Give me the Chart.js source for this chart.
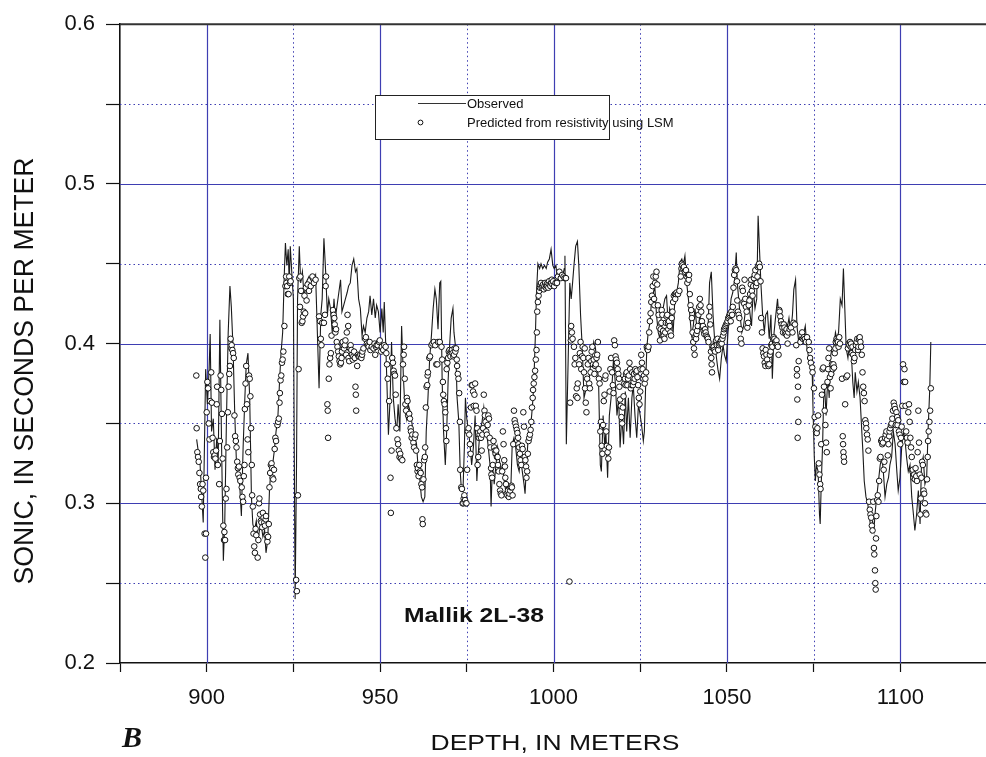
<!DOCTYPE html>
<html>
<head>
<meta charset="utf-8">
<script src="https://cdn.jsdelivr.net/npm/chart.js@4.4.1/dist/chart.umd.min.js"></script>
<style>
  html, body { margin: 0; padding: 0; background: #fff; overflow: hidden; }
  #wrap { position: relative; width: 986px; height: 757px; overflow: hidden; }
  #sonicChart { display: block; }
</style>
</head>
<body>
<div id="wrap"><canvas id="sonicChart" width="1000" height="757"></canvas></div>
<script>
// depth (m), sonic (s/m) -- observed log
const observed = [
  [897.1,0.340],[898.1,0.324],[899.0,0.288],[899.7,0.384],[900.2,0.362],[900.7,0.384],[901.0,0.406],[901.4,0.345],
  [901.9,0.353],[902.4,0.321],[902.9,0.341],[903.3,0.324],[903.8,0.415],[904.3,0.335],[904.8,0.264],[905.2,0.287],
  [905.7,0.353],[906.2,0.407],[906.7,0.436],[907.1,0.423],[907.6,0.397],[908.1,0.355],[908.6,0.324],[909.0,0.316],
  [909.5,0.312],[910.0,0.292],[910.5,0.335],[911.0,0.366],[911.4,0.387],[911.9,0.394],[912.4,0.366],[912.9,0.304],
  [913.3,0.287],[913.8,0.283],[914.3,0.289],[914.8,0.277],[915.2,0.283],[915.7,0.287],[916.2,0.279],[916.7,0.283],
  [917.1,0.269],[917.6,0.277],[918.1,0.308],[918.6,0.324],[919.0,0.324],[919.5,0.333],[920.0,0.345],[920.5,0.353],
  [921.0,0.376],[921.4,0.393],[921.9,0.407],[922.4,0.445],[922.7,0.463],[923.1,0.449],[923.5,0.459],[923.8,0.438],
  [924.1,0.461],[924.6,0.442],[925.0,0.428],[925.5,0.240],[925.9,0.324],[926.2,0.428],[926.7,0.461],[927.1,0.438],
  [927.6,0.445],[928.1,0.428],[928.6,0.438],[929.5,0.442],[930.5,0.438],[931.4,0.443],[932.4,0.372],[932.9,0.418],
  [933.3,0.428],[933.8,0.466],[934.3,0.445],[934.8,0.418],[935.2,0.428],[935.7,0.422],[936.2,0.407],[936.7,0.428],
  [937.1,0.416],[938.1,0.432],[938.6,0.440],[939.0,0.420],[939.5,0.424],[940.0,0.428],[940.5,0.432],[940.9,0.436],
  [941.4,0.438],[941.9,0.449],[942.4,0.453],[942.9,0.445],[943.3,0.447],[943.8,0.428],[944.3,0.422],[944.8,0.405],
  [945.2,0.411],[945.7,0.407],[946.2,0.416],[946.7,0.420],[947.1,0.430],[947.6,0.418],[948.1,0.428],[948.6,0.416],
  [949.0,0.424],[949.5,0.420],[950.0,0.407],[950.5,0.422],[950.9,0.407],[951.2,0.426],[951.6,0.401],[951.9,0.380],
  [952.4,0.343],[952.9,0.366],[953.3,0.401],[953.8,0.366],[954.3,0.353],[954.8,0.345],[955.2,0.362],[955.7,0.345],
  [956.2,0.411],[956.7,0.380],[957.1,0.362],[957.6,0.353],[958.1,0.362],[958.6,0.358],[959.0,0.353],[959.5,0.345],
  [960.0,0.341],[960.5,0.337],[960.9,0.324],[961.4,0.316],[961.9,0.304],[962.4,0.301],[962.9,0.304],[963.3,0.345],
  [963.8,0.366],[964.3,0.391],[964.8,0.405],[965.3,0.422],[965.8,0.434],[966.2,0.428],[966.7,0.409],[967.2,0.438],
  [967.5,0.439],[967.9,0.376],[968.3,0.345],[968.8,0.324],[969.2,0.345],[969.6,0.376],[970.1,0.401],[970.5,0.416],
  [971.0,0.422],[971.3,0.407],[971.8,0.397],[972.2,0.366],[972.7,0.351],[973.1,0.320],[973.4,0.310],[973.9,0.308],
  [974.3,0.335],[974.6,0.366],[975.0,0.353],[975.5,0.345],[976.0,0.335],[976.4,0.324],[976.9,0.335],[977.4,0.355],
  [977.9,0.314],[978.3,0.331],[978.8,0.345],[979.4,0.351],[979.9,0.360],[980.2,0.353],[980.7,0.345],[981.2,0.335],
  [981.7,0.324],[982.0,0.298],[982.4,0.324],[982.9,0.312],[983.4,0.324],[983.9,0.335],[984.3,0.329],[984.8,0.320],
  [985.3,0.324],[985.8,0.314],[986.2,0.308],[986.7,0.312],[987.2,0.306],[987.7,0.310],[988.1,0.337],[988.6,0.341],
  [989.1,0.335],[989.6,0.324],[990.1,0.320],[990.5,0.329],[991.0,0.320],[991.5,0.312],[991.8,0.306],[992.2,0.324],
  [992.7,0.341],[993.2,0.345],[993.7,0.355],[994.1,0.366],[994.5,0.387],[994.8,0.407],[995.1,0.432],[995.5,0.450],
  [996.0,0.447],[996.4,0.450],[996.9,0.447],[997.4,0.449],[997.9,0.447],[998.3,0.451],[998.8,0.453],[999.3,0.459],
  [999.8,0.449],[1000.2,0.447],[1000.7,0.449],[1001.1,0.440],[1001.6,0.445],[1002.1,0.440],[1002.6,0.442],[1003.1,0.447],
  [1003.3,0.455],[1003.7,0.337],[1004.2,0.387],[1004.7,0.438],[1005.1,0.428],[1005.5,0.438],[1005.9,0.449],[1006.4,0.461],
  [1006.9,0.464],[1007.3,0.449],[1007.8,0.418],[1008.3,0.397],[1008.8,0.366],[1009.2,0.370],[1009.7,0.374],[1010.2,0.376],
  [1010.7,0.387],[1011.1,0.391],[1011.6,0.401],[1012.1,0.397],[1012.6,0.387],[1013.0,0.376],[1013.5,0.324],[1013.8,0.320],
  [1014.3,0.355],[1014.8,0.335],[1015.1,0.345],[1015.6,0.316],[1016.1,0.355],[1016.6,0.366],[1017.1,0.382],[1017.3,0.391],
  [1017.8,0.376],[1018.3,0.355],[1018.8,0.366],[1019.2,0.335],[1019.7,0.355],[1020.2,0.337],[1020.7,0.370],[1021.1,0.345],
  [1021.6,0.366],[1022.1,0.341],[1022.6,0.366],[1023.0,0.374],[1023.5,0.355],[1024.0,0.341],[1024.5,0.362],[1025.0,0.355],
  [1025.4,0.349],[1025.9,0.339],[1026.2,0.345],[1026.6,0.376],[1026.9,0.397],[1027.3,0.407],[1027.8,0.413],[1028.3,0.428],
  [1028.8,0.432],[1029.2,0.436],[1029.7,0.418],[1030.2,0.407],[1030.7,0.403],[1031.1,0.418],[1031.6,0.422],[1032.1,0.428],
  [1032.6,0.430],[1033.1,0.411],[1033.5,0.422],[1034.0,0.418],[1034.5,0.407],[1035.0,0.428],[1035.5,0.432],[1036.0,0.438],
  [1036.5,0.451],[1037.0,0.453],[1037.4,0.449],[1037.9,0.455],[1038.4,0.438],[1038.9,0.428],[1039.3,0.418],[1039.8,0.405],
  [1040.3,0.411],[1040.8,0.422],[1041.2,0.413],[1041.7,0.407],[1042.2,0.418],[1042.7,0.411],[1043.1,0.413],[1043.6,0.407],
  [1044.1,0.403],[1044.6,0.411],[1045.0,0.438],[1045.5,0.445],[1046.0,0.418],[1046.5,0.401],[1047.0,0.391],[1047.4,0.384],
  [1047.9,0.378],[1048.4,0.391],[1048.9,0.399],[1049.3,0.393],[1049.8,0.389],[1050.3,0.407],[1050.8,0.418],[1051.2,0.428],
  [1051.7,0.432],[1052.2,0.440],[1052.7,0.457],[1053.0,0.438],[1053.4,0.428],[1053.8,0.418],[1054.3,0.407],[1054.8,0.411],
  [1055.2,0.418],[1055.7,0.422],[1056.2,0.428],[1056.7,0.418],[1057.1,0.411],[1057.6,0.434],[1058.1,0.422],[1058.6,0.428],
  [1059.0,0.480],[1059.8,0.438],[1060.3,0.418],[1060.8,0.407],[1061.2,0.418],[1061.7,0.420],[1062.2,0.403],[1062.7,0.418],
  [1063.1,0.378],[1063.6,0.407],[1064.1,0.418],[1064.6,0.428],[1065.1,0.413],[1065.5,0.418],[1066.0,0.411],[1066.5,0.407],
  [1067.0,0.413],[1067.5,0.411],[1067.9,0.416],[1068.4,0.407],[1068.9,0.418],[1069.3,0.434],[1069.8,0.440],[1070.2,0.411],
  [1070.7,0.401],[1071.2,0.407],[1071.7,0.403],[1072.2,0.407],[1072.6,0.411],[1073.1,0.397],[1073.6,0.391],[1074.1,0.387],
  [1074.6,0.382],[1074.8,0.362],[1075.2,0.329],[1075.5,0.314],[1075.8,0.324],[1076.3,0.320],[1076.7,0.293],[1076.9,0.287],
  [1077.2,0.312],[1077.6,0.337],[1077.9,0.366],[1078.2,0.372],[1078.6,0.355],[1078.9,0.370],[1079.2,0.376],[1079.5,0.366],
  [1079.8,0.391],[1080.3,0.397],[1080.8,0.397],[1081.3,0.407],[1081.7,0.403],[1082.2,0.407],[1082.7,0.428],[1083.2,0.424],
  [1083.6,0.447],[1083.9,0.428],[1084.4,0.397],[1084.9,0.391],[1085.4,0.401],[1085.8,0.397],[1086.3,0.376],[1086.7,0.366],
  [1087.0,0.382],[1087.5,0.370],[1087.9,0.376],[1088.4,0.366],[1088.9,0.345],[1089.2,0.333],[1089.6,0.314],[1090.1,0.304],
  [1090.6,0.300],[1091.1,0.291],[1091.6,0.283],[1092.0,0.289],[1092.4,0.283],[1092.7,0.293],[1093.2,0.304],[1093.7,0.314],
  [1094.2,0.324],[1094.7,0.329],[1095.1,0.320],[1095.6,0.304],[1096.1,0.312],[1096.6,0.316],[1097.0,0.324],[1097.5,0.329],
  [1098.0,0.345],[1098.5,0.337],[1099.0,0.320],[1099.4,0.308],[1099.9,0.316],[1100.4,0.335],[1100.9,0.345],[1101.3,0.341],
  [1101.8,0.329],[1102.3,0.320],[1102.8,0.324],[1103.3,0.304],[1103.7,0.295],[1104.2,0.283],[1104.7,0.293],[1105.2,0.308],
  [1105.7,0.287],[1106.1,0.324],[1106.6,0.329],[1107.1,0.312],[1107.6,0.316],[1108.0,0.345],[1108.5,0.372],[1108.8,0.401]
];

// depth (m), sonic (s/m) -- predicted from resistivity (LSM)
const predicted = [
  [897.0,0.380],[897.1,0.347],[897.3,0.332],[897.5,0.329],[897.7,0.326],[897.9,0.319],[898.1,0.312],[898.3,0.309],
  [898.4,0.304],[898.6,0.298],[898.8,0.312],[899.0,0.308],[899.4,0.281],[899.8,0.281],[899.6,0.266],[899.8,0.316],
  [900.0,0.357],[900.2,0.376],[900.4,0.372],[900.6,0.350],[900.8,0.340],[901.0,0.364],[901.3,0.382],[901.5,0.363],
  [901.7,0.341],[901.9,0.332],[902.1,0.329],[902.3,0.330],[902.5,0.328],[902.7,0.333],[902.9,0.362],[903.0,0.373],
  [903.2,0.324],[903.6,0.312],[903.8,0.339],[904.0,0.380],[904.2,0.371],[904.4,0.356],[904.6,0.328],[904.8,0.286],
  [905.0,0.277],[905.1,0.282],[905.3,0.277],[905.5,0.303],[905.7,0.309],[905.9,0.335],[906.1,0.357],[906.3,0.373],
  [906.5,0.381],[906.7,0.386],[906.9,0.403],[907.1,0.397],[907.2,0.399],[907.4,0.396],[907.6,0.394],[907.8,0.391],
  [908.0,0.355],[908.2,0.342],[908.4,0.339],[908.6,0.335],[908.8,0.326],[909.0,0.322],[909.1,0.318],[909.3,0.323],
  [909.5,0.316],[909.7,0.314],[910.1,0.310],[910.3,0.304],[910.5,0.301],[910.7,0.317],[910.9,0.324],[911.0,0.359],
  [911.2,0.375],[911.4,0.386],[911.6,0.362],[911.8,0.340],[912.0,0.332],[912.2,0.380],[912.4,0.378],[912.6,0.367],
  [912.8,0.347],[913.0,0.324],[913.1,0.305],[913.3,0.298],[913.5,0.281],[913.7,0.273],[913.9,0.269],[914.1,0.284],
  [914.3,0.280],[914.7,0.266],[914.9,0.277],[915.1,0.300],[915.2,0.303],[915.4,0.293],[915.6,0.289],[915.8,0.288],
  [916.0,0.285],[916.2,0.294],[916.4,0.291],[916.6,0.288],[916.8,0.286],[917.0,0.290],[917.1,0.292],[917.3,0.280],
  [917.5,0.276],[917.7,0.279],[917.9,0.287],[918.1,0.310],[918.3,0.319],[918.5,0.324],[918.7,0.325],[918.9,0.322],
  [919.0,0.316],[919.2,0.315],[919.4,0.321],[919.6,0.334],[919.8,0.341],[920.0,0.339],[920.4,0.349],[920.6,0.351],
  [920.8,0.353],[921.0,0.363],[921.1,0.369],[921.3,0.377],[921.5,0.380],[921.7,0.388],[921.9,0.390],[922.1,0.395],
  [922.4,0.411],[922.7,0.436],[922.9,0.442],[923.0,0.438],[923.2,0.436],[923.4,0.431],[923.6,0.431],[923.8,0.442],
  [924.0,0.438],[924.2,0.439],[925.8,0.252],[926.0,0.245],[926.3,0.305],[926.5,0.384],[926.7,0.441],[926.9,0.423],
  [927.0,0.442],[927.2,0.433],[927.4,0.413],[927.6,0.414],[927.8,0.417],[928.0,0.420],[928.2,0.430],[928.4,0.419],
  [928.6,0.435],[928.8,0.427],[929.1,0.437],[929.5,0.433],[930.0,0.436],[930.5,0.442],[930.9,0.438],[931.4,0.440],
  [932.4,0.417],[932.7,0.414],[932.9,0.403],[933.1,0.399],[933.3,0.413],[933.8,0.413],[934.1,0.418],[934.3,0.436],
  [934.4,0.442],[934.8,0.362],[934.9,0.358],[935.0,0.341],[935.2,0.378],[935.4,0.387],[935.6,0.391],[935.8,0.394],
  [936.0,0.405],[936.4,0.421],[936.6,0.418],[936.8,0.416],[936.9,0.412],[937.1,0.407],[937.3,0.409],[937.5,0.401],
  [937.7,0.398],[937.9,0.395],[938.1,0.392],[938.3,0.389],[938.5,0.387],[938.7,0.388],[938.9,0.391],[939.0,0.395],
  [939.2,0.401],[939.4,0.398],[939.6,0.397],[939.8,0.399],[940.0,0.402],[940.2,0.393],[940.4,0.407],[940.6,0.418],
  [940.8,0.411],[940.9,0.391],[941.1,0.389],[941.3,0.397],[941.5,0.399],[941.7,0.396],[941.9,0.393],[942.1,0.390],
  [942.3,0.392],[942.5,0.395],[942.7,0.391],[942.9,0.373],[943.0,0.368],[943.1,0.358],[943.4,0.386],[943.6,0.393],
  [943.8,0.392],[944.0,0.392],[944.3,0.393],[944.6,0.391],[944.8,0.393],[944.9,0.395],[945.2,0.397],[945.7,0.403],
  [945.9,0.404],[946.2,0.400],[946.5,0.399],[946.7,0.398],[947.0,0.401],[947.2,0.396],[947.6,0.398],[948.1,0.397],
  [948.4,0.400],[948.6,0.393],[948.8,0.398],[949.0,0.399],[949.3,0.399],[949.7,0.401],[949.9,0.402],[950.3,0.395],
  [950.5,0.398],[950.9,0.396],[951.2,0.399],[951.6,0.398],[951.8,0.394],[952.0,0.387],[952.2,0.378],[952.6,0.364],
  [953.0,0.316],[953.1,0.294],[953.3,0.333],[953.5,0.391],[953.7,0.388],[953.9,0.383],[954.1,0.381],[954.3,0.380],
  [954.5,0.368],[954.7,0.347],[955.0,0.340],[955.2,0.337],[955.4,0.333],[955.6,0.329],[955.8,0.331],[956.0,0.328],
  [956.4,0.327],[956.6,0.387],[956.8,0.393],[956.9,0.398],[957.1,0.378],[957.3,0.362],[957.5,0.358],[957.7,0.366],
  [957.9,0.364],[958.1,0.355],[958.4,0.356],[958.6,0.353],[958.8,0.347],[958.9,0.345],[959.1,0.341],[959.3,0.343],
  [959.6,0.338],[959.8,0.335],[960.0,0.341],[960.2,0.343],[960.4,0.333],[960.6,0.324],[960.8,0.320],[960.9,0.322],
  [961.1,0.317],[961.3,0.324],[961.5,0.320],[961.7,0.319],[961.9,0.312],[962.1,0.310],[962.2,0.290],[962.3,0.287],
  [962.5,0.315],[962.7,0.327],[962.9,0.329],[963.0,0.335],[963.2,0.360],[963.4,0.373],[963.6,0.374],[963.7,0.380],
  [963.8,0.382],[964.2,0.391],[964.4,0.392],[964.8,0.399],[965.1,0.400],[965.5,0.401],[965.9,0.399],[966.2,0.387],
  [966.5,0.387],[966.7,0.401],[967.2,0.401],[967.7,0.398],[967.9,0.390],[968.1,0.376],[968.2,0.368],[968.4,0.364],
  [968.6,0.362],[968.8,0.357],[969.0,0.347],[969.1,0.339],[969.2,0.384],[969.4,0.388],[969.6,0.391],[969.8,0.395],
  [970.0,0.396],[970.1,0.393],[970.3,0.392],[970.5,0.395],[970.7,0.396],[970.9,0.394],[971.1,0.392],[971.3,0.393],
  [971.5,0.397],[971.7,0.395],[971.9,0.397],[972.1,0.390],[972.2,0.386],[972.4,0.381],[972.6,0.378],[972.8,0.369],
  [973.0,0.351],[973.1,0.321],[973.4,0.310],[973.6,0.309],[973.8,0.300],[974.0,0.300],[974.1,0.303],[974.3,0.305],
  [974.5,0.302],[974.7,0.300],[974.9,0.300],[975.1,0.321],[975.3,0.345],[975.5,0.347],[975.7,0.343],[975.9,0.337],
  [976.1,0.331],[976.2,0.360],[976.4,0.374],[976.6,0.374],[976.8,0.370],[977.0,0.361],[977.2,0.368],[977.4,0.375],
  [977.6,0.361],[977.8,0.358],[978.0,0.347],[978.1,0.324],[978.3,0.329],[978.5,0.341],[978.7,0.343],[978.9,0.345],
  [979.1,0.341],[979.3,0.333],[979.5,0.343],[979.7,0.347],[979.9,0.368],[980.1,0.358],[980.2,0.355],[980.4,0.351],
  [980.6,0.345],[980.8,0.343],[981.0,0.349],[981.2,0.355],[981.4,0.353],[981.6,0.341],[981.8,0.335],[982.0,0.322],
  [982.1,0.318],[982.3,0.316],[982.5,0.324],[982.7,0.339],[982.9,0.335],[983.1,0.333],[983.3,0.331],[983.5,0.333],
  [983.7,0.329],[983.9,0.329],[984.0,0.324],[984.2,0.320],[984.4,0.312],[984.6,0.308],[984.8,0.306],[985.0,0.305],
  [985.2,0.320],[985.4,0.345],[985.6,0.337],[985.8,0.327],[986.0,0.323],[986.1,0.316],[986.3,0.312],[986.5,0.306],
  [986.7,0.305],[986.9,0.308],[987.1,0.304],[987.3,0.306],[987.5,0.308],[987.7,0.310],[987.9,0.311],[988.0,0.310],
  [988.2,0.305],[988.4,0.337],[988.6,0.358],[988.8,0.352],[989.0,0.350],[989.2,0.348],[989.4,0.346],[989.6,0.344],
  [989.8,0.341],[989.9,0.337],[990.1,0.335],[990.3,0.331],[990.5,0.327],[990.7,0.324],[990.9,0.336],[991.1,0.334],
  [991.3,0.357],[991.5,0.348],[991.7,0.329],[991.9,0.327],[992.1,0.323],[992.2,0.316],[992.4,0.320],[992.6,0.331],
  [992.8,0.339],[993.0,0.341],[993.2,0.343],[993.4,0.346],[993.6,0.351],[993.8,0.360],[994.0,0.366],[994.1,0.371],
  [994.3,0.375],[994.5,0.379],[994.7,0.383],[994.9,0.390],[995.1,0.396],[995.2,0.407],[995.3,0.420],[995.5,0.426],
  [995.7,0.430],[995.9,0.433],[996.1,0.435],[996.2,0.437],[996.4,0.438],[996.6,0.435],[996.8,0.436],[997.0,0.437],
  [997.2,0.434],[997.4,0.436],[997.6,0.438],[997.8,0.435],[998.0,0.437],[998.1,0.436],[998.3,0.438],[998.5,0.435],
  [998.7,0.439],[998.9,0.437],[999.1,0.436],[999.3,0.438],[999.5,0.440],[999.7,0.437],[999.9,0.439],[1000.2,0.436],
  [1000.6,0.438],[1001.0,0.438],[1001.3,0.442],[1001.7,0.445],[1002.1,0.441],[1002.5,0.443],[1002.9,0.442],[1003.2,0.441],
  [1003.6,0.441],[1004.6,0.251],[1004.8,0.363],[1005.0,0.402],[1005.1,0.411],[1005.3,0.407],[1005.5,0.403],[1005.9,0.398],
  [1006.1,0.387],[1006.3,0.391],[1006.5,0.367],[1006.7,0.372],[1006.9,0.366],[1007.0,0.375],[1007.4,0.387],[1007.6,0.394],
  [1007.8,0.401],[1008.0,0.384],[1008.2,0.392],[1008.4,0.398],[1008.6,0.391],[1008.8,0.382],[1009.0,0.397],[1009.1,0.372],
  [1009.3,0.363],[1009.5,0.357],[1009.7,0.378],[1009.9,0.387],[1010.1,0.391],[1010.3,0.375],[1010.5,0.372],[1010.7,0.382],
  [1010.9,0.389],[1011.0,0.395],[1011.2,0.398],[1011.4,0.387],[1011.6,0.390],[1011.8,0.381],[1012.0,0.386],[1012.2,0.387],
  [1012.4,0.391],[1012.6,0.393],[1012.8,0.401],[1013.0,0.384],[1013.1,0.378],[1013.3,0.375],[1013.5,0.345],[1013.7,0.351],
  [1013.9,0.336],[1014.1,0.331],[1014.3,0.349],[1014.5,0.364],[1014.7,0.368],[1014.9,0.378],[1015.0,0.380],[1015.2,0.345],
  [1015.4,0.336],[1015.6,0.332],[1015.8,0.328],[1016.0,0.335],[1016.2,0.370],[1016.4,0.384],[1016.6,0.391],[1016.9,0.382],
  [1017.1,0.374],[1017.3,0.369],[1017.5,0.402],[1017.7,0.399],[1017.9,0.392],[1018.1,0.390],[1018.3,0.388],[1018.5,0.384],
  [1018.7,0.381],[1018.9,0.378],[1019.0,0.373],[1019.2,0.365],[1019.4,0.361],[1019.6,0.354],[1019.8,0.350],[1020.0,0.360],
  [1020.2,0.367],[1020.4,0.375],[1020.6,0.378],[1020.8,0.374],[1020.9,0.381],[1021.1,0.382],[1021.3,0.374],[1021.5,0.378],
  [1021.7,0.380],[1021.9,0.388],[1022.1,0.384],[1022.3,0.372],[1022.5,0.374],[1022.7,0.382],[1022.9,0.374],[1023.1,0.376],
  [1023.2,0.381],[1023.4,0.378],[1023.6,0.384],[1023.8,0.382],[1024.0,0.383],[1024.2,0.379],[1024.4,0.374],[1024.6,0.366],
  [1024.8,0.362],[1025.0,0.370],[1025.1,0.384],[1025.3,0.393],[1025.5,0.388],[1025.7,0.384],[1025.9,0.378],[1026.1,0.380],
  [1026.3,0.375],[1026.5,0.378],[1026.7,0.382],[1026.9,0.398],[1027.0,0.397],[1027.2,0.396],[1027.4,0.398],[1027.6,0.407],
  [1027.8,0.414],[1028.0,0.419],[1028.2,0.426],[1028.4,0.430],[1028.6,0.436],[1028.8,0.442],[1029.0,0.428],[1029.1,0.424],
  [1029.3,0.438],[1029.5,0.442],[1029.7,0.445],[1029.9,0.437],[1030.1,0.424],[1030.3,0.418],[1030.5,0.410],[1030.7,0.402],
  [1030.9,0.409],[1031.1,0.413],[1031.2,0.421],[1031.4,0.418],[1031.6,0.408],[1031.8,0.405],[1032.0,0.403],[1032.2,0.407],
  [1032.4,0.413],[1032.6,0.417],[1032.8,0.418],[1033.0,0.413],[1033.1,0.409],[1033.3,0.414],[1033.5,0.411],[1033.7,0.407],
  [1033.9,0.405],[1034.1,0.416],[1034.3,0.420],[1034.5,0.426],[1034.7,0.430],[1035.0,0.431],[1035.1,0.428],[1035.3,0.431],
  [1035.5,0.432],[1035.9,0.431],[1036.3,0.433],[1036.7,0.442],[1036.9,0.447],[1037.0,0.450],[1037.2,0.449],[1037.4,0.447],
  [1037.6,0.448],[1037.9,0.445],[1038.2,0.446],[1038.4,0.442],[1038.6,0.438],[1038.8,0.443],[1039.0,0.440],[1039.1,0.443],
  [1039.3,0.431],[1039.5,0.424],[1039.7,0.421],[1039.9,0.416],[1040.1,0.407],[1040.3,0.401],[1040.5,0.397],[1040.7,0.393],
  [1040.9,0.404],[1041.1,0.403],[1041.2,0.406],[1041.4,0.408],[1041.6,0.411],[1041.8,0.418],[1042.0,0.423],[1042.2,0.428],
  [1042.4,0.424],[1042.6,0.420],[1042.8,0.414],[1043.0,0.410],[1043.1,0.411],[1043.3,0.408],[1043.5,0.406],[1043.7,0.409],
  [1043.9,0.407],[1044.1,0.405],[1044.3,0.404],[1044.5,0.403],[1044.7,0.401],[1044.9,0.417],[1045.0,0.423],[1045.2,0.412],
  [1045.4,0.395],[1045.5,0.391],[1045.6,0.387],[1045.7,0.382],[1045.8,0.398],[1046.0,0.397],[1046.2,0.398],[1046.4,0.396],
  [1046.6,0.395],[1046.8,0.401],[1046.9,0.402],[1047.1,0.399],[1047.3,0.403],[1047.5,0.396],[1047.7,0.399],[1047.9,0.400],
  [1048.1,0.401],[1048.3,0.402],[1048.5,0.400],[1048.7,0.403],[1048.9,0.405],[1049.1,0.407],[1049.2,0.409],[1049.4,0.410],
  [1049.6,0.411],[1049.8,0.412],[1050.0,0.413],[1050.2,0.414],[1050.4,0.416],[1050.6,0.417],[1050.8,0.418],[1050.9,0.419],
  [1051.1,0.414],[1051.3,0.420],[1051.5,0.418],[1051.7,0.423],[1051.9,0.435],[1052.1,0.443],[1052.3,0.446],[1052.5,0.447],
  [1052.7,0.446],[1052.9,0.439],[1053.0,0.427],[1053.2,0.420],[1053.4,0.418],[1053.6,0.416],[1053.8,0.409],[1054.0,0.403],
  [1054.2,0.400],[1054.4,0.435],[1054.6,0.433],[1054.8,0.426],[1055.0,0.425],[1055.1,0.440],[1055.3,0.428],[1055.5,0.423],
  [1055.7,0.420],[1055.9,0.410],[1056.1,0.413],[1056.3,0.424],[1056.5,0.427],[1056.7,0.431],[1056.9,0.437],[1057.0,0.440],
  [1057.2,0.433],[1057.4,0.430],[1057.6,0.436],[1057.8,0.441],[1058.0,0.443],[1058.2,0.446],[1058.4,0.436],[1058.6,0.438],
  [1058.8,0.442],[1058.9,0.448],[1059.1,0.449],[1059.3,0.450],[1059.5,0.448],[1059.7,0.439],[1059.9,0.416],[1060.1,0.407],
  [1060.3,0.397],[1060.5,0.394],[1060.7,0.392],[1060.9,0.388],[1061.1,0.386],[1061.2,0.396],[1061.4,0.393],[1061.6,0.390],
  [1061.8,0.387],[1062.0,0.386],[1062.2,0.387],[1062.4,0.393],[1062.6,0.395],[1062.8,0.399],[1063.0,0.400],[1063.1,0.398],
  [1063.3,0.403],[1063.5,0.404],[1063.7,0.403],[1063.9,0.401],[1064.1,0.400],[1064.3,0.402],[1064.5,0.399],[1064.7,0.398],
  [1064.9,0.393],[1065.1,0.421],[1065.2,0.420],[1065.4,0.417],[1065.6,0.414],[1065.8,0.412],[1066.0,0.410],[1066.2,0.407],
  [1066.4,0.412],[1066.6,0.410],[1066.8,0.407],[1067.0,0.406],[1067.2,0.409],[1067.3,0.405],[1067.5,0.400],[1067.7,0.407],
  [1068.1,0.409],[1068.5,0.410],[1068.9,0.407],[1069.2,0.413],[1069.6,0.412],[1070.0,0.399],[1070.2,0.384],[1070.2,0.380],
  [1070.3,0.365],[1070.5,0.373],[1070.6,0.351],[1070.4,0.341],[1070.7,0.389],[1071.2,0.401],[1071.5,0.405],[1071.7,0.407],
  [1071.9,0.403],[1072.2,0.404],[1072.5,0.403],[1072.8,0.401],[1073.1,0.404],[1073.6,0.401],[1073.8,0.396],[1074.0,0.391],
  [1074.2,0.388],[1074.6,0.385],[1074.7,0.382],[1075.1,0.372],[1075.3,0.354],[1075.5,0.348],[1075.7,0.345],[1075.9,0.344],
  [1076.1,0.347],[1076.3,0.355],[1076.5,0.325],[1076.7,0.318],[1076.9,0.312],[1077.0,0.309],[1077.2,0.337],[1077.4,0.368],
  [1077.6,0.384],[1077.8,0.385],[1078.0,0.373],[1078.2,0.358],[1078.4,0.349],[1078.6,0.338],[1078.8,0.332],[1079.0,0.376],
  [1079.2,0.384],[1079.3,0.391],[1079.5,0.397],[1079.7,0.379],[1079.9,0.372],[1080.1,0.381],[1080.3,0.387],[1080.5,0.384],
  [1080.7,0.387],[1080.9,0.385],[1081.1,0.394],[1081.3,0.397],[1081.4,0.401],[1081.6,0.403],[1081.8,0.402],[1082.0,0.401],
  [1082.2,0.398],[1082.4,0.404],[1082.6,0.400],[1083.2,0.378],[1083.4,0.342],[1083.5,0.337],[1083.6,0.332],[1083.7,0.329],
  [1083.8,0.326],[1084.1,0.362],[1084.4,0.379],[1084.7,0.380],[1084.9,0.397],[1085.1,0.400],[1085.3,0.399],[1085.5,0.401],
  [1085.7,0.398],[1085.8,0.400],[1086.0,0.394],[1086.2,0.398],[1086.4,0.393],[1086.6,0.389],[1086.8,0.391],[1087.0,0.396],
  [1087.2,0.399],[1087.4,0.401],[1087.6,0.403],[1087.8,0.396],[1087.9,0.398],[1088.1,0.403],[1088.3,0.404],[1088.5,0.401],
  [1088.7,0.398],[1088.9,0.393],[1089.1,0.382],[1089.3,0.373],[1089.5,0.369],[1089.7,0.364],[1089.9,0.352],[1090.1,0.350],
  [1090.2,0.347],[1090.4,0.343],[1090.6,0.340],[1090.8,0.333],[1091.0,0.301],[1091.2,0.296],[1091.4,0.293],[1091.6,0.291],
  [1091.8,0.286],[1092.0,0.283],[1092.2,0.301],[1092.4,0.272],[1092.5,0.268],[1092.7,0.258],[1092.8,0.250],[1092.9,0.246],
  [1093.0,0.278],[1093.1,0.292],[1093.3,0.302],[1093.5,0.305],[1093.7,0.301],[1093.9,0.314],[1094.1,0.328],[1094.3,0.329],
  [1094.5,0.339],[1094.7,0.340],[1094.8,0.337],[1095.0,0.338],[1095.2,0.321],[1095.4,0.326],[1095.6,0.341],[1095.8,0.343],
  [1096.0,0.345],[1096.2,0.340],[1096.4,0.330],[1096.6,0.337],[1096.8,0.342],[1096.9,0.345],[1097.1,0.347],[1097.3,0.349],
  [1097.5,0.350],[1097.7,0.353],[1097.9,0.358],[1098.1,0.363],[1098.3,0.361],[1098.5,0.359],[1098.7,0.349],[1098.9,0.357],
  [1099.1,0.354],[1099.2,0.349],[1099.4,0.352],[1099.6,0.345],[1099.8,0.343],[1100.0,0.337],[1100.2,0.341],[1100.4,0.348],
  [1100.6,0.361],[1100.8,0.387],[1101.0,0.376],[1101.2,0.384],[1101.4,0.376],[1101.5,0.361],[1101.7,0.345],[1101.9,0.341],
  [1102.1,0.338],[1102.3,0.357],[1102.5,0.362],[1102.7,0.351],[1102.9,0.341],[1103.1,0.335],[1103.3,0.329],[1103.5,0.320],
  [1103.6,0.321],[1103.8,0.316],[1104.0,0.318],[1104.2,0.315],[1104.4,0.322],[1104.6,0.317],[1104.8,0.314],[1105.0,0.332],
  [1105.2,0.358],[1105.4,0.338],[1105.6,0.318],[1105.8,0.293],[1105.9,0.303],[1106.1,0.316],[1106.3,0.326],[1106.5,0.324],
  [1106.7,0.308],[1106.9,0.306],[1107.1,0.300],[1107.3,0.294],[1107.5,0.293],[1107.7,0.315],[1107.9,0.329],[1108.0,0.339],
  [1108.2,0.345],[1108.4,0.351],[1108.6,0.358],[1108.8,0.372]
];

const xTickLabels = [900, 950, 1000, 1050, 1100];
const yTickLabels = [0.2, 0.3, 0.4, 0.5, 0.6];
const legendLabels = ['Observed', 'Predicted from resistivity using LSM'];
const wellName = 'Mallik 2L-38';
const panelLetter = 'B';
const xTitle = 'DEPTH, IN METERS';
const yTitle = 'SONIC, IN SECONDS PER METER';

const SANS = '"Liberation Sans", Arial, Helvetica, sans-serif';
const GRID_BLUE = 'rgb(62, 62, 178)';

function toPoints(rows) {
	return rows.map(function(r) { return { x: r[0], y: r[1] }; });
}

// horizontally stretched text so the width matches the figure
function fitText(ctx, text, x, y, font, width, align) {
	ctx.font = font;
	const w = ctx.measureText(text).width;
	const sx = width / w;
	ctx.save();
	ctx.translate(x, y);
	ctx.scale(sx, 1);
	ctx.textAlign = align;
	ctx.textBaseline = 'alphabetic';
	ctx.fillText(text, 0, 0);
	ctx.restore();
}

const gridLines = {
	id: 'gridLines',
	beforeDatasetsDraw(chart) {
		const ctx = chart.ctx;
		const a = chart.chartArea;
		const xs = chart.scales.x;
		const ys = chart.scales.y;
		ctx.save();
		ctx.strokeStyle = GRID_BLUE;
		xs.ticks.forEach(function(t) {
			if (t.value <= xs.min || t.value >= xs.max) return;
			const px = Math.round(xs.getPixelForValue(t.value)) + 0.5;
			const major = t.value % 50 === 0;
			ctx.lineWidth = major ? 1.2 : 1;
			ctx.setLineDash(major ? [] : [1.5, 3]);
			ctx.beginPath();
			ctx.moveTo(px, a.top);
			ctx.lineTo(px, a.bottom);
			ctx.stroke();
		});
		ys.ticks.forEach(function(t) {
			if (t.value <= ys.min + 1e-9 || t.value >= ys.max - 1e-9) return;
			const py = Math.round(ys.getPixelForValue(t.value)) + 0.5;
			const major = Math.round(t.value * 100) % 10 === 0;
			ctx.lineWidth = major ? 1.2 : 1;
			ctx.setLineDash(major ? [] : [1.5, 3]);
			ctx.beginPath();
			ctx.moveTo(a.left, py);
			ctx.lineTo(a.right, py);
			ctx.stroke();
		});
		// top frame line
		ctx.setLineDash([]);
		ctx.strokeStyle = '#333';
		ctx.lineWidth = 2;
		ctx.beginPath();
		ctx.moveTo(a.left, a.top);
		ctx.lineTo(a.right + 10, a.top);
		ctx.stroke();
		ctx.restore();
	},
	afterDraw(chart) {
		const ctx = chart.ctx;
		ctx.save();

		// legend
		ctx.fillStyle = '#fff';
		ctx.fillRect(375, 95, 234, 44);
		ctx.strokeStyle = '#222';
		ctx.lineWidth = 1;
		ctx.strokeRect(375.5, 95.5, 234, 44);
		ctx.strokeStyle = '#333';
		ctx.beginPath();
		ctx.moveTo(418, 103.5);
		ctx.lineTo(466, 103.5);
		ctx.stroke();
		ctx.beginPath();
		ctx.arc(420.5, 122.5, 2.4, 0, Math.PI * 2);
		ctx.fillStyle = '#fff';
		ctx.fill();
		ctx.strokeStyle = '#111';
		ctx.stroke();
		ctx.fillStyle = '#111';
		ctx.font = '13px ' + SANS;
		ctx.textAlign = 'left';
		ctx.textBaseline = 'middle';
		ctx.fillText(legendLabels[0], 467, 104);
		ctx.fillText(legendLabels[1], 467, 123);

		// well name
		fitText(ctx, wellName, 404, 622, 'bold 20px ' + SANS, 140, 'left');

		// axis titles
		fitText(ctx, xTitle, 555, 750, '22px ' + SANS, 249, 'center');
		ctx.save();
		ctx.translate(33, 371);
		ctx.rotate(-Math.PI / 2);
		fitText(ctx, yTitle, 0, 0, '27px ' + SANS, 427, 'center');
		ctx.restore();

		// panel letter
		ctx.font = 'italic bold 30px "Liberation Serif", "Times New Roman", serif';
		ctx.textAlign = 'left';
		ctx.textBaseline = 'alphabetic';
		ctx.fillText(panelLetter, 122, 747);
		ctx.restore();
	}
};

const ctx = document.getElementById('sonicChart').getContext('2d');
const chart = new Chart(ctx, {
	type: 'scatter',
	data: {
		datasets: [{
			label: legendLabels[1],
			data: toPoints(predicted),
			showLine: false,
			pointRadius: 2.8,
			pointBackgroundColor: '#fff',
			pointBorderColor: '#111',
			pointBorderWidth: 1,
			order: 0
		}, {
			label: legendLabels[0],
			data: toPoints(observed),
			showLine: true,
			pointRadius: 0,
			borderColor: '#1a1a1a',
			borderWidth: 1.1,
			tension: 0,
			order: 1
		}]
	},
	options: {
		responsive: false,
		animation: false,
		devicePixelRatio: 1,
		layout: { padding: { top: 18, right: 5, left: 0, bottom: 0 } },
		plugins: {
			legend: { display: false },
			tooltip: { enabled: false }
		},
		scales: {
			x: {
				type: 'linear',
				min: 875,
				max: 1125,
				afterFit: function(s) { s.height = 94; },
				ticks: {
					stepSize: 25,
					padding: 13,
					color: '#111',
					font: { family: SANS, size: 22 },
					maxRotation: 0,
					autoSkip: false,
					callback: function(v) { return xTickLabels.indexOf(v) >= 0 ? String(v) : ''; }
				},
				grid: { drawOnChartArea: false, drawTicks: true, tickLength: 9, tickColor: '#111', tickWidth: 1.2 },
				border: { color: '#111', width: 1.6 }
			},
			y: {
				min: 0.2,
				max: 0.6,
				afterFit: function(s) { s.width = 120; },
				ticks: {
					stepSize: 0.05,
					padding: 11,
					color: '#111',
					font: { family: SANS, size: 22 },
					autoSkip: false,
					callback: function(v) {
						const r = Math.round(v * 10) / 10;
						return Math.abs(v - r) < 1e-6 && yTickLabels.indexOf(r) >= 0 ? r.toFixed(1) : '';
					}
				},
				grid: { drawOnChartArea: false, drawTicks: true, tickLength: 14, tickColor: '#111', tickWidth: 1.2 },
				border: { color: '#111', width: 1.6 }
			}
		}
	},
	plugins: [gridLines]
});
</script>
</body>
</html>
